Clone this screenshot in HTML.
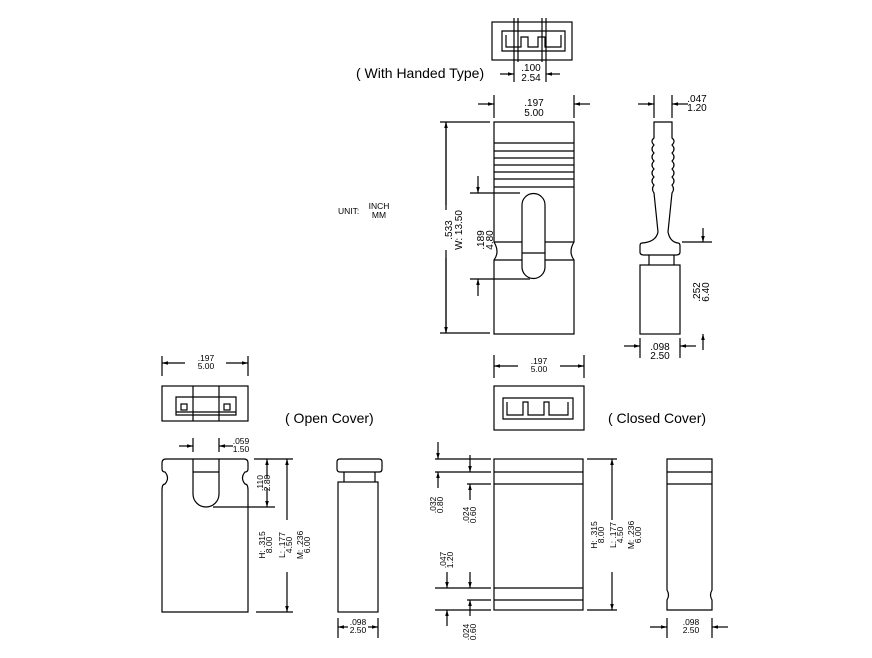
<!DOCTYPE html>
<html><head><style>
body{margin:0;background:#fff}
svg{display:block}
text{font-family:"Liberation Sans",sans-serif;fill:#000}
.s{font-size:8.5px}
.m{font-size:10px}
.l{font-size:14px}
</style></head><body>
<svg width="872" height="658" viewBox="0 0 872 658" xmlns="http://www.w3.org/2000/svg">
<defs>
<marker id="a" viewBox="0 0 10 10" refX="10" refY="5" markerWidth="6" markerHeight="5" orient="auto-start-reverse"><path d="M0,2 L10,5 L0,8 z" fill="#000"/></marker>
</defs>
<g fill="none" stroke="#000" stroke-width="1.2">
<!-- top handed view -->
<rect x="492" y="22" width="80" height="38"/>
<path d="M502 31 H565 V51 H502 Z M506 35 V47 H521 V37 H528 V47 H538 V37 H545 V47 H561 V35"/>
<path d="M514 18 V82 M546 18 V82 M518 18 V62 M542 18 V62"/>
<path d="M500 74 H514" marker-end="url(#a)"/><path d="M560 74 H546" marker-end="url(#a)"/>

<!-- main front view -->
<path d="M494 122 H574 V242 Q568 252 574 260 V334 H494 V260 Q500 252 494 242 Z"/>
<path d="M494 143 H574 M494 151 H574 M494 158 H574 M494 165 H574 M494 172 H574 M494 179 H574 M494 187 H574 M494 242 H522 M545 242 H574 M494 260 H522 M545 260 H574"/>
<path d="M522 205 A11.5 11.5 0 0 1 545 205 V267 A11.5 11.5 0 0 1 522 267 Z M522 253 H545"/>
<path d="M494 95 V118 M574 95 V118"/>
<path d="M478 104 H494" marker-end="url(#a)"/><path d="M590 104 H574" marker-end="url(#a)"/>
<path d="M440 122 H490 M440 333 H490 M446 122 V205 M446 258 V333"/>
<path d="M446 210 V122" marker-end="url(#a)"/><path d="M446 250 V333" marker-end="url(#a)"/>
<path d="M470 193 H520 M470 279 H530"/>
<path d="M478 176 V193" marker-end="url(#a)"/><path d="M478 296 V279" marker-end="url(#a)"/>

<!-- side view -->
<path d="M654 122 H672 V138 Q676 141 672 145 Q676 149 672 153 Q676 157 672 161 Q676 165 672 169 Q676 173 672 177 Q676 181 672 185 Q675 189 672 193 L668 232 Q670 242 678 243 Q680 243 680 246 V252 Q680 255 676 255 H644 Q640 255 640 252 V246 Q640 243 642 243 Q656 242 658 232 L654 193 Q651 189 654 185 Q650 181 654 177 Q650 173 654 169 Q650 165 654 161 Q650 157 654 153 Q650 149 654 145 Q650 141 654 138 Z"/>
<path d="M649 255 V265 M674 255 V265"/>
<rect x="640" y="265" width="40" height="69"/>
<path d="M654 95 V118 M672 95 V118"/>
<path d="M638 104 H654" marker-end="url(#a)"/><path d="M688 104 H672" marker-end="url(#a)"/>
<path d="M682 242 H712"/><path d="M703 228 V242" marker-end="url(#a)"/>
<path d="M640 338 V358 M680 338 V358"/>
<path d="M624 346 H640" marker-end="url(#a)"/><path d="M696 346 H680" marker-end="url(#a)"/>
<path d="M703 350 V334" marker-end="url(#a)"/>

<!-- open cover top -->
<rect x="162" y="386" width="86" height="35"/>
<path d="M193 386 V421 M219 386 V421"/>
<path d="M176 397 H236 V415 H176 Z M176 412 H236"/>
<rect x="181" y="404" width="6" height="6"/><rect x="224" y="404" width="6" height="6"/>
<path d="M162 356 V376 M248 356 V376"/>
<path d="M185 363 H162" marker-end="url(#a)"/><path d="M226 363 H248" marker-end="url(#a)"/>
<path d="M193 438 V452 M219 438 V452"/>
<path d="M179 446 H193" marker-end="url(#a)"/><path d="M233 446 H219" marker-end="url(#a)"/>
<!-- open cover front -->
<path d="M166 459 H244 Q248 459 248 463 V469 Q248 472 245 472 Q240 478 245 484 Q248 484 248 490 V612 H162 V490 Q162 484 165 484 Q170 478 165 472 Q162 472 162 469 V463 Q162 459 166 459 Z"/>
<path d="M193 459 V494 A13 13 0 0 0 219 494 V459 M193 472 H219"/>
<path d="M254 459 H293 M213 507 H275 M256 612 H293"/>
<path d="M267 478 V459" marker-end="url(#a)"/><path d="M267 488 V507" marker-end="url(#a)"/>
<path d="M287 520 V459" marker-end="url(#a)"/><path d="M287 572 V612" marker-end="url(#a)"/>
<!-- open side -->
<path d="M340 459 H379 Q382 459 382 462 V469 Q382 472 379 472 H340 Q337 472 337 469 V462 Q337 459 340 459 Z M344 472 V482 M375 472 V482"/>
<rect x="338" y="482" width="40" height="130"/>
<path d="M338 618 V638 M378 618 V638"/>
<path d="M348 627 H338" marker-end="url(#a)"/><path d="M368 627 H378" marker-end="url(#a)"/>

<!-- closed top -->
<rect x="494" y="386" width="90" height="44"/>
<path d="M503 398 H573 V419 H503 Z M507 402 V415 H523 V402 H528 V415 H544 V402 H549 V415 H568 V402"/>
<path d="M494 355 V378 M584 355 V378"/>
<path d="M518 366 H494" marker-end="url(#a)"/><path d="M560 366 H584" marker-end="url(#a)"/>
<!-- closed front -->
<rect x="494" y="459" width="89" height="151"/>
<path d="M494 472 H583 M494 484 H583 M494 588 H583 M494 600 H583"/>
<path d="M435 459 H491 M435 472 H491 M467 484 H491 M435 588 H491 M467 600 H491 M435 610 H491"/>
<path d="M438 442 V459" marker-end="url(#a)"/><path d="M438 488 V472" marker-end="url(#a)"/>
<path d="M470 455 V472" marker-end="url(#a)"/><path d="M470 500 V484" marker-end="url(#a)"/>
<path d="M447 572 V588" marker-end="url(#a)"/><path d="M447 626 V610" marker-end="url(#a)"/>
<path d="M470 572 V588" marker-end="url(#a)"/><path d="M470 616 V600" marker-end="url(#a)"/>
<path d="M587 459 H617 M587 610 H617"/>
<path d="M612 520 V459" marker-end="url(#a)"/><path d="M612 572 V610" marker-end="url(#a)"/>
<!-- closed side -->
<path d="M667 459 H712 V590 Q709 595 712 600 V610 H667 V600 Q670 595 667 590 Z M667 472 H712 M667 484 H712"/>
<path d="M667 618 V638 M712 618 V638"/>
<path d="M650 627 H667" marker-end="url(#a)"/><path d="M728 627 H712" marker-end="url(#a)"/>
</g>

<g text-anchor="middle">
<text class="m" x="531" y="71">.100</text><text class="m" x="531" y="81">2.54</text>
<text class="m" x="534" y="106">.197</text><text class="m" x="534" y="116">5.00</text>
<text class="m" x="697" y="102">.047</text><text class="m" x="697" y="111">1.20</text>
<text class="m" x="660" y="350">.098</text><text class="m" x="660" y="359">2.50</text>
<text class="s" x="206" y="361">.197</text><text class="s" x="206" y="369">5.00</text>
<text class="s" x="241" y="444">.059</text><text class="s" x="241" y="452">1.50</text>
<text class="s" x="358" y="625">.098</text><text class="s" x="358" y="633">2.50</text>
<text class="s" x="539" y="364">.197</text><text class="s" x="539" y="372">5.00</text>
<text class="s" x="691" y="625">.098</text><text class="s" x="691" y="633">2.50</text>
<text class="s" x="379" y="209">INCH</text><text class="s" x="379" y="218">MM</text>
</g>
<text class="s" x="338" y="214">UNIT:</text>
<text class="l" x="356" y="78">( With Handed Type)</text>
<text class="l" x="285" y="423">( Open Cover)</text>
<text class="l" x="608" y="423">( Closed Cover)</text>

<g text-anchor="middle">
<g transform="translate(454 230) rotate(-90)"><text class="m" x="0" y="-2">.533</text><text class="m" x="0" y="8">W: 13.50</text></g>
<g transform="translate(484 240) rotate(-90)"><text class="m" x="0" y="0">.189</text><text class="m" x="0" y="9">4.80</text></g>
<g transform="translate(700 292) rotate(-90)"><text class="m" x="0" y="0">.252</text><text class="m" x="0" y="9">6.40</text></g>
<g transform="translate(263 483) rotate(-90)"><text class="s" x="0" y="0">.110</text><text class="s" x="0" y="7">2.80</text></g>
<g transform="translate(265 545) rotate(-90)"><text class="s" x="0" y="0">H: .315</text><text class="s" x="0" y="7">8.00</text></g>
<g transform="translate(285 545) rotate(-90)"><text class="s" x="0" y="0">L: .177</text><text class="s" x="0" y="7">4.50</text></g>
<g transform="translate(303 545) rotate(-90)"><text class="s" x="0" y="0">M: .236</text><text class="s" x="0" y="7">6.00</text></g>
<g transform="translate(436 505) rotate(-90)"><text class="s" x="0" y="0">.032</text><text class="s" x="0" y="7">0.80</text></g>
<g transform="translate(469 515) rotate(-90)"><text class="s" x="0" y="0">.024</text><text class="s" x="0" y="7">0.60</text></g>
<g transform="translate(446 560) rotate(-90)"><text class="s" x="0" y="0">.047</text><text class="s" x="0" y="7">1.20</text></g>
<g transform="translate(469 632) rotate(-90)"><text class="s" x="0" y="0">.024</text><text class="s" x="0" y="7">0.60</text></g>
<g transform="translate(597 535) rotate(-90)"><text class="s" x="0" y="0">H: .315</text><text class="s" x="0" y="7">8.00</text></g>
<g transform="translate(616 535) rotate(-90)"><text class="s" x="0" y="0">L: .177</text><text class="s" x="0" y="7">4.50</text></g>
<g transform="translate(634 535) rotate(-90)"><text class="s" x="0" y="0">M: .236</text><text class="s" x="0" y="7">6.00</text></g>
</g>
</svg>
</body></html>
